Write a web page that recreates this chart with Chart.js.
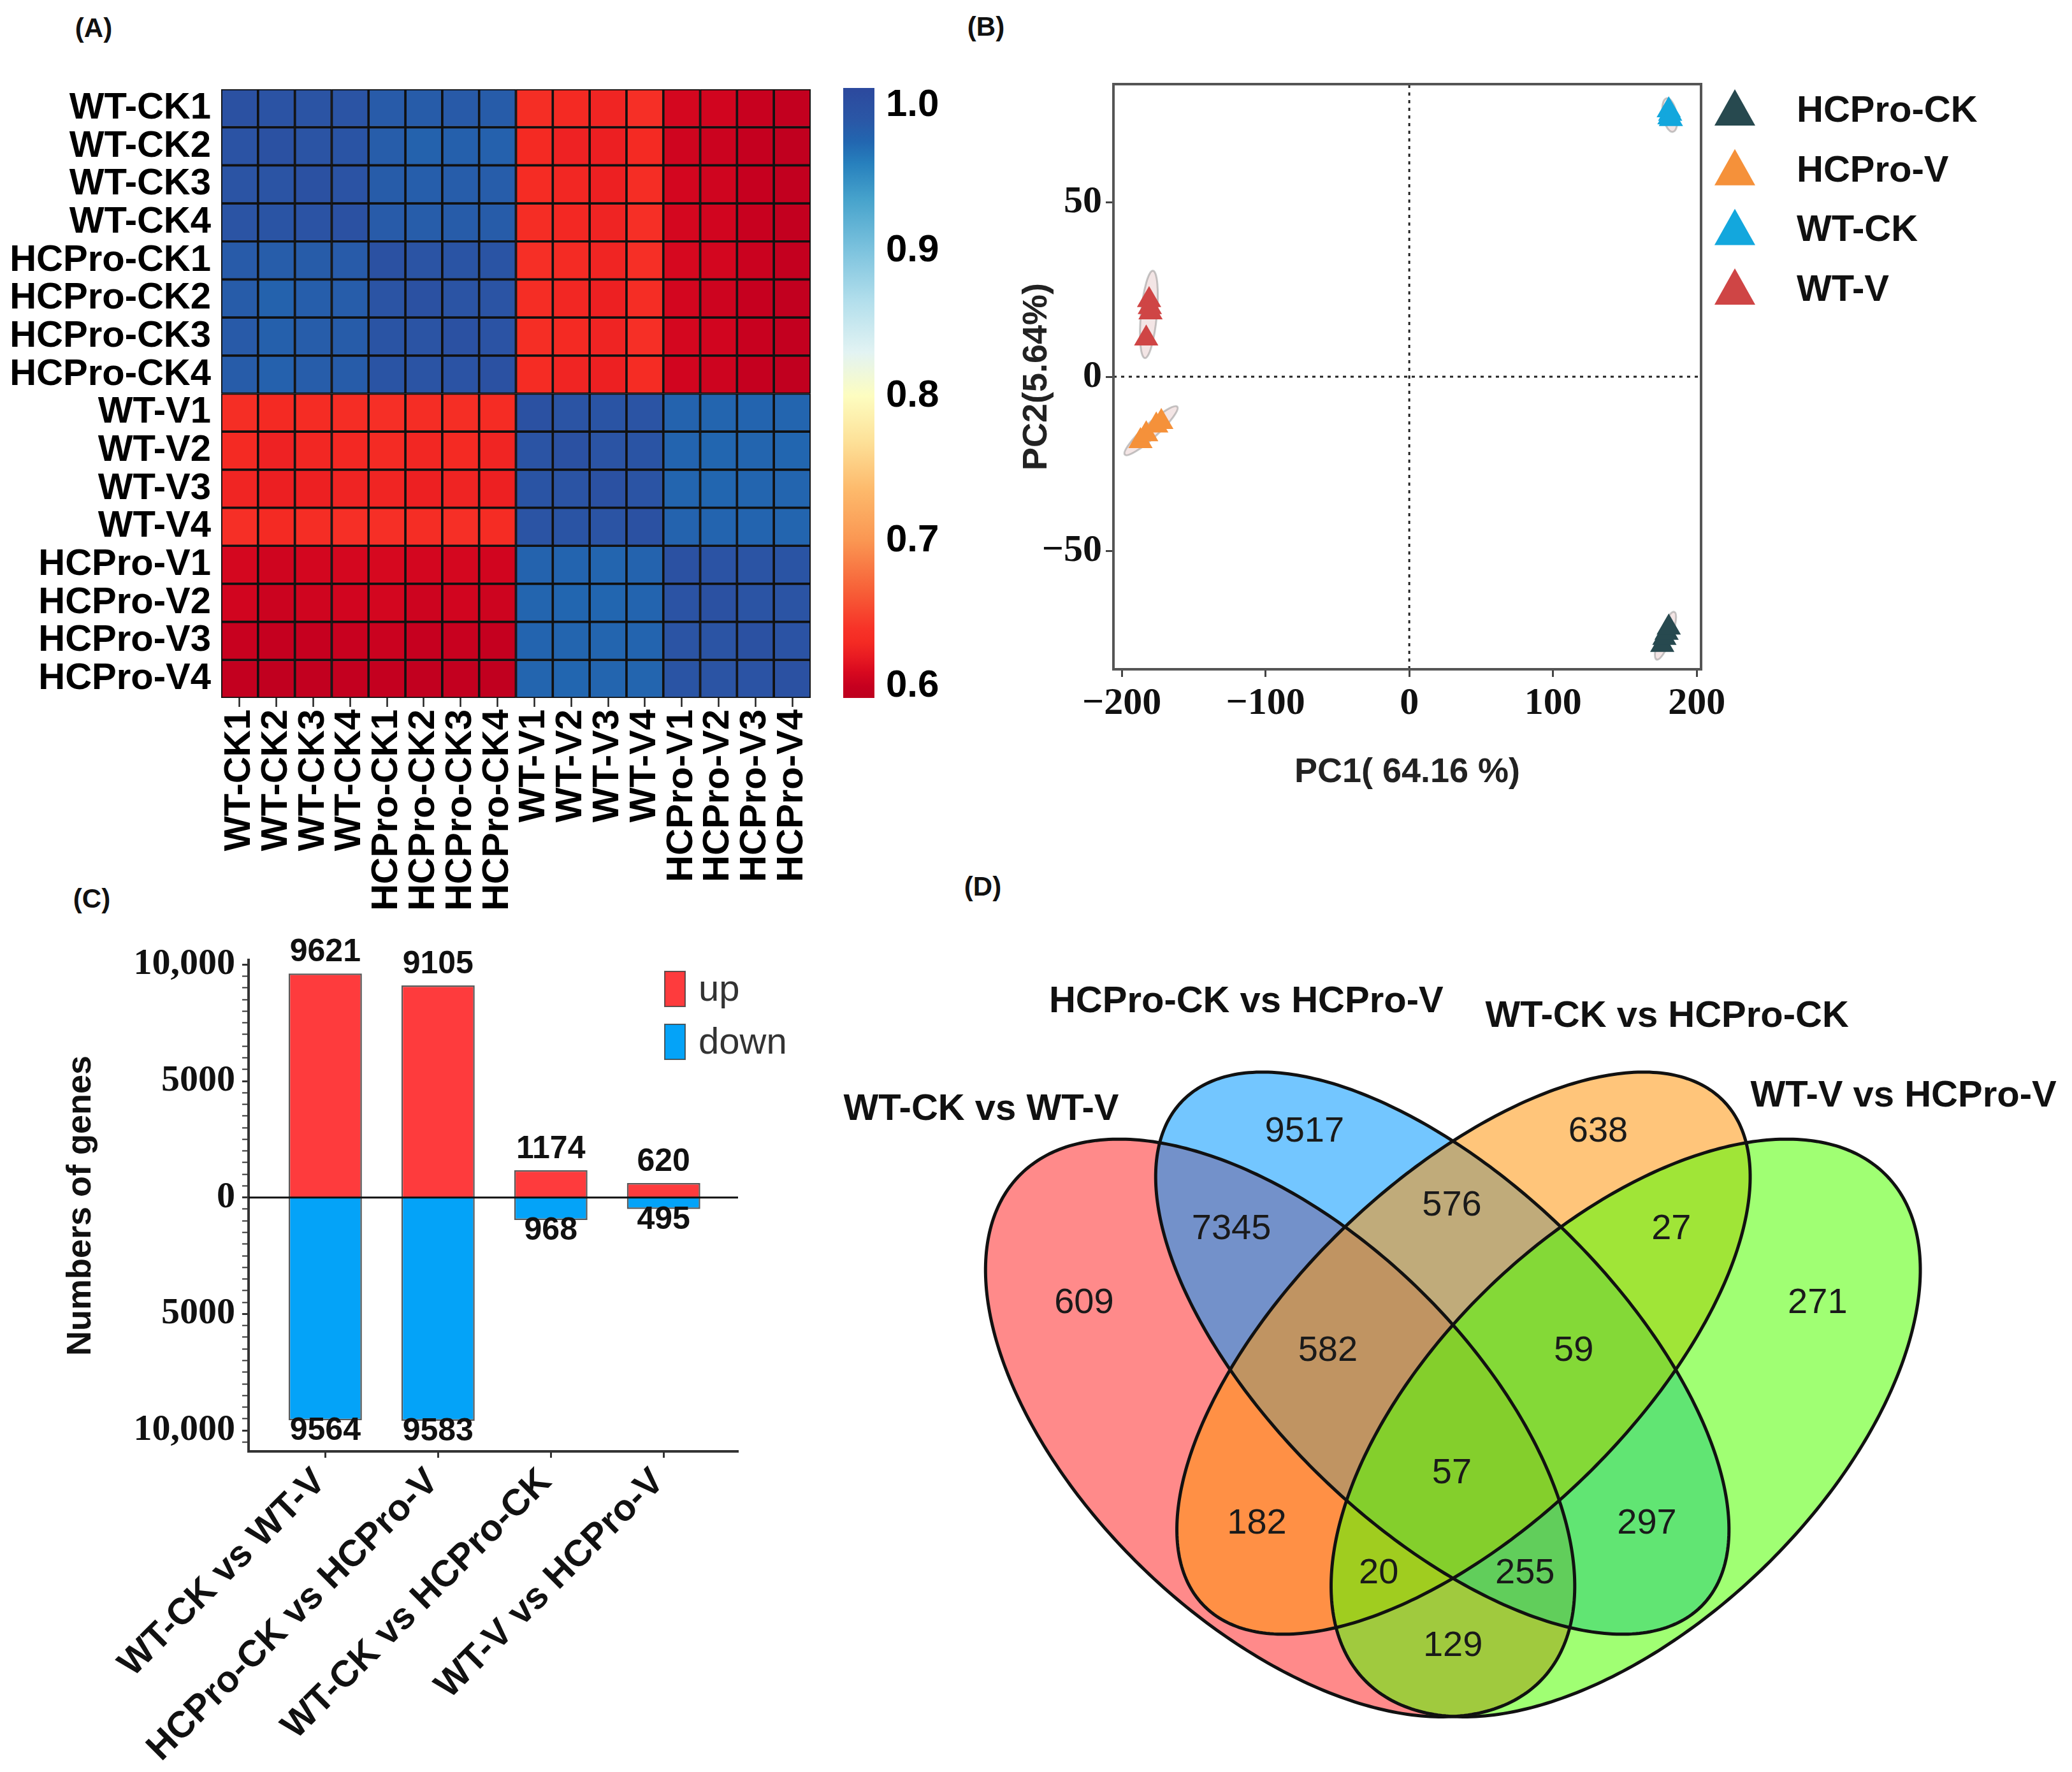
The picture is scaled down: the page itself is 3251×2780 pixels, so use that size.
<!DOCTYPE html>
<html><head><meta charset="utf-8">
<script src="https://cdn.jsdelivr.net/npm/chart.js@4.4.1/dist/chart.umd.min.js"></script>
<style>
html,body{margin:0;padding:0;background:#fff;}
body{width:3251px;height:2780px;position:relative;overflow:hidden;font-family:"Liberation Sans",Arial,sans-serif;}
.pl{position:absolute;font:bold 42px "Liberation Sans",Arial,sans-serif;color:#111;transform:translate(-50%,-50%);white-space:nowrap;}
canvas{position:absolute;}
</style></head><body>
<div class="pl" style="left:147px;top:44px">(A)</div>
<div class="pl" style="left:1547px;top:42px">(B)</div>
<div class="pl" style="left:144px;top:1410px">(C)</div>
<div class="pl" style="left:1542px;top:1391px">(D)</div>
<canvas id="cA" width="1300" height="1450" style="left:0;top:0;width:1300px;height:1450px"></canvas>
<canvas id="cCB" width="250" height="1200" style="left:1300px;top:0;width:250px;height:1200px"></canvas>
<canvas id="cB" width="1751" height="1300" style="left:1500px;top:0;width:1751px;height:1300px"></canvas>
<canvas id="cC" width="1300" height="1430" style="left:0;top:1350px;width:1300px;height:1430px"></canvas>
<canvas id="cD" width="1951" height="1430" style="left:1300px;top:1350px;width:1951px;height:1430px"></canvas>
<script>
// ---------------- DATA ----------------
// (A) sample correlation heatmap
const sampleLabels = ['WT-CK1','WT-CK2','WT-CK3','WT-CK4','HCPro-CK1','HCPro-CK2','HCPro-CK3','HCPro-CK4',
                      'WT-V1','WT-V2','WT-V3','WT-V4','HCPro-V1','HCPro-V2','HCPro-V3','HCPro-V4'];
const corrMatrix = [
 [1.000,0.996,0.995,0.995,0.986,0.985,0.987,0.985, 0.634,0.630,0.627,0.635, 0.608,0.606,0.601,0.597],
 [0.996,1.000,0.995,0.994,0.984,0.979,0.981,0.980, 0.630,0.625,0.623,0.630, 0.605,0.603,0.599,0.595],
 [0.995,0.995,1.000,0.996,0.985,0.983,0.984,0.984, 0.632,0.628,0.624,0.633, 0.607,0.605,0.600,0.596],
 [0.995,0.994,0.996,1.000,0.986,0.984,0.985,0.985, 0.633,0.629,0.626,0.635, 0.608,0.606,0.601,0.597],
 [0.986,0.984,0.985,0.986,1.000,0.995,0.994,0.994, 0.636,0.631,0.627,0.636, 0.609,0.607,0.602,0.598],
 [0.985,0.979,0.983,0.984,0.995,1.000,0.995,0.995, 0.633,0.628,0.624,0.633, 0.607,0.604,0.600,0.596],
 [0.987,0.981,0.984,0.985,0.994,0.995,1.000,0.996, 0.634,0.630,0.626,0.635, 0.608,0.606,0.601,0.597],
 [0.985,0.980,0.984,0.985,0.994,0.995,0.996,1.000, 0.632,0.627,0.624,0.632, 0.606,0.604,0.599,0.595],
 [0.634,0.630,0.632,0.633,0.636,0.633,0.634,0.632, 1.000,0.995,0.994,0.995, 0.978,0.976,0.977,0.976],
 [0.630,0.625,0.628,0.629,0.631,0.628,0.630,0.627, 0.995,1.000,0.995,0.994, 0.977,0.975,0.976,0.975],
 [0.627,0.623,0.624,0.626,0.627,0.624,0.626,0.624, 0.994,0.995,1.000,0.995, 0.976,0.975,0.976,0.976],
 [0.635,0.630,0.633,0.635,0.636,0.633,0.635,0.632, 0.995,0.994,0.995,1.000, 0.978,0.977,0.977,0.976],
 [0.608,0.605,0.607,0.608,0.609,0.607,0.608,0.606, 0.978,0.977,0.976,0.978, 1.000,0.996,0.995,0.994],
 [0.606,0.603,0.605,0.606,0.607,0.604,0.606,0.604, 0.976,0.975,0.975,0.977, 0.996,1.000,0.995,0.995],
 [0.601,0.599,0.600,0.601,0.602,0.600,0.601,0.599, 0.977,0.976,0.976,0.977, 0.995,0.995,1.000,0.996],
 [0.597,0.595,0.596,0.597,0.598,0.596,0.597,0.595, 0.976,0.975,0.976,0.976, 0.994,0.995,0.996,1.000]
];
const colorbarTicks = [0.6, 0.7, 0.8, 0.9, 1.0];
const colorbarRange = [0.592, 1.012];

// (B) PCA
const pcaGroups = ['HCPro-CK','HCPro-V','WT-CK','WT-V'];
const pc1HCProCK = [176.0, 177.5, 179.0, 180.5];
const pc2HCProCK = [-77.0, -75.0, -73.5, -72.0];
const pc1HCProV  = [-187.0, -183.0, -176.0, -172.5];
const pc2HCProV  = [-18.5, -16.5, -14.0, -13.0];
const pc1WTCK    = [180.5, 181.5, 181.0, 182.0];
const pc2WTCK    = [76.5, 75.5, 74.5, 74.0];
const pc1WTV     = [-181.0, -180.5, -180.0, -183.0];
const pc2WTV     = [22.0, 20.0, 18.5, 11.0];
const pcaXTicks = [-200, -100, 0, 100, 200];
const pcaYTicks = [-50, 0, 50];
const pcaXTitle = 'PC1( 64.16 %)';
const pcaYTitle = 'PC2(5.64%)';

// (C) DEG counts
const degComparisons = ['WT-CK vs WT-V','HCPro-CK vs HCPro-V','WT-CK vs HCPro-CK','WT-V vs HCPro-V'];
const degUp   = [9621, 9105, 1174, 620];
const degDown = [9564, 9583, 968, 495];
const degYMajorTicks = [-10000, -5000, 0, 5000, 10000];
const degYTitle = 'Numbers of genes';

// (D) Venn
const vennSets = ['WT-CK vs WT-V','HCPro-CK vs HCPro-V','WT-CK vs HCPro-CK','WT-V vs HCPro-V'];
const vennCounts = [609, 9517, 638, 271, 7345, 576, 27, 582, 59, 57, 182, 297, 20, 255, 129];

// ---------------- LAYOUT / STYLE ----------------
const SANS = '"Liberation Sans", Arial, sans-serif';
const SERIF = '"Liberation Serif", "Times New Roman", serif';
Chart.defaults.font.family = SANS;
Chart.defaults.color = '#111';
Chart.defaults.animation = false;

const colorStops = [
 [0.590,'#bb001e'],[0.600,'#c6001f'],[0.610,'#d8091f'],[0.620,'#e81a22'],[0.630,'#f42a23'],
 [0.640,'#f73328'],[0.665,'#f75e37'],[0.700,'#fa9652'],[0.735,'#fdb96b'],[0.770,'#fde29a'],
 [0.800,'#fdfdc0'],[0.830,'#e2f3f3'],[0.865,'#b3dfec'],[0.900,'#7dc3de'],[0.935,'#47a3cc'],
 [0.960,'#2780bd'],[0.975,'#2266b0'],[0.990,'#2a57a6'],[1.010,'#2c4a9e']
];
function hex2rgb(h){return [parseInt(h.substr(1,2),16),parseInt(h.substr(3,2),16),parseInt(h.substr(5,2),16)];}
function valueToColor(v){
  if (v <= colorStops[0][0]) return colorStops[0][1];
  for (let k=1;k<colorStops.length;k++){
    if (v <= colorStops[k][0]){
      const [v0,c0]=colorStops[k-1],[v1,c1]=colorStops[k];
      const t=(v-v0)/(v1-v0), a=hex2rgb(c0), b=hex2rgb(c1);
      return 'rgb('+a.map((x,i)=>Math.round(x+(b[i]-x)*t)).join(',')+')';
    }
  }
  return colorStops[colorStops.length-1][1];
}
const noSidePadding = s => { s.paddingLeft = 0; s.paddingRight = 0; };

// ---------------- (A) HEATMAP ----------------
const heatDatasets = sampleLabels.map((col, j) => ({
  label: col,
  data: sampleLabels.map(() => 1),
  backgroundColor: corrMatrix.map(row => valueToColor(row[j])),
  borderColor: '#111', borderWidth: 2.2, borderSkipped: false,
  barPercentage: 1, categoryPercentage: 1
}));
new Chart(document.getElementById('cA'), {
  type: 'bar',
  data: { labels: sampleLabels, datasets: heatDatasets },
  options: {
    indexAxis: 'y', responsive: false, devicePixelRatio: 1, animation: false,
    layout: { padding: { top: 140, right: 28, left: 0, bottom: 0 } },
    plugins: { legend: { display: false }, tooltip: { enabled: false } },
    scales: {
      x: { type: 'linear', stacked: true, min: 0, max: sampleLabels.length, position: 'bottom', offset: false,
        afterBuildTicks: s => { s.ticks = sampleLabels.map((_, j) => ({ value: j + 0.5 })); },
        afterFit: s => { s.height = 355; noSidePadding(s); },
        ticks: { autoSkip: false, minRotation: 90, maxRotation: 90, padding: 4, color: '#000',
                 font: { family: SANS, weight: 'bold', size: 58 }, callback: (v, i) => sampleLabels[i] },
        grid: { display: true, offset: false, drawOnChartArea: false, drawTicks: true, tickLength: 14, tickColor: '#222', tickWidth: 2.5 },
        border: { display: false } },
      y: { type: 'category', stacked: true,
        afterFit: s => { s.width = 347; },
        ticks: { autoSkip: false, padding: 8, color: '#000', font: { family: SANS, weight: 'bold', size: 58 } },
        grid: { display: false }, border: { display: false } }
    }
  }
});

// colour bar
new Chart(document.getElementById('cCB'), {
  type: 'bar',
  data: { labels: ['r'], datasets: [{
    data: [[colorbarRange[0], colorbarRange[1]]],
    backgroundColor: (c) => {
      const ch = c.chart; if (!ch.chartArea) return '#888';
      const ys = ch.scales.y;
      const g = ch.ctx.createLinearGradient(0, ys.getPixelForValue(colorbarRange[0]), 0, ys.getPixelForValue(colorbarRange[1]));
      g.addColorStop(0, valueToColor(colorbarRange[0]));
      colorStops.forEach(([v, col]) => {
        const t = (v - colorbarRange[0]) / (colorbarRange[1] - colorbarRange[0]);
        if (t > 0 && t < 1) g.addColorStop(t, col);
      });
      g.addColorStop(1, valueToColor(colorbarRange[1]));
      return g;
    },
    borderWidth: 0, barPercentage: 1, categoryPercentage: 1
  }]},
  options: {
    responsive: false, devicePixelRatio: 1, animation: false,
    layout: { padding: { top: 138, left: 23, bottom: 105, right: 0 } },
    plugins: { legend: { display: false }, tooltip: { enabled: false } },
    scales: {
      x: { display: false },
      y: { position: 'right', min: colorbarRange[0], max: colorbarRange[1],
        afterBuildTicks: s => { s.ticks = colorbarTicks.map(v => ({ value: v })); },
        afterFit: s => { s.width = 178; },
        ticks: { padding: 10, color: '#000', font: { family: SANS, weight: 'bold', size: 60 }, callback: v => v.toFixed(1) },
        grid: { display: false }, border: { display: false } }
    }
  }
});

// ---------------- (B) PCA ----------------
const pcaColors = ['#27494f', '#f5913a', '#13a7dd', '#cf4545'];
const pcaX = [pc1HCProCK, pc1HCProV, pc1WTCK, pc1WTV];
const pcaY = [pc2HCProCK, pc2HCProV, pc2WTCK, pc2WTV];
const pcaXRange = [-205.8, 203], pcaYRange = [-84, 84];
const pcaDatasets = pcaGroups.map((g, k) => ({
  type: 'scatter', label: g, order: 1,
  data: pcaX[k].map((x, i) => ({ x: x, y: pcaY[k][i] })),
  pointStyle: 'triangle', pointRadius: 22, pointHoverRadius: 22,
  backgroundColor: pcaColors[k], borderColor: pcaColors[k], borderWidth: 0
}));
pcaDatasets.push({ type: 'line', label: 'h0', order: 5, data: [{ x: pcaXRange[0], y: 0 }, { x: pcaXRange[1], y: 0 }],
  borderColor: '#222', borderWidth: 3, borderDash: [5, 7], pointRadius: 0 });
pcaDatasets.push({ type: 'line', label: 'v0', order: 5, data: [{ x: 0, y: pcaYRange[0] }, { x: 0, y: pcaYRange[1] }],
  borderColor: '#222', borderWidth: 3, borderDash: [5, 7], pointRadius: 0 });

const pcaPlugin = {
  id: 'pcaExtras',
  beforeDatasetsDraw(chart) {
    const { ctx, scales: { x, y } } = chart;
    ctx.save();
    pcaGroups.forEach((g, k) => {
      const pts = pcaX[k].map((v, i) => [x.getPixelForValue(v), y.getPixelForValue(pcaY[k][i])]);
      const n = pts.length;
      const mx = pts.reduce((s, p) => s + p[0], 0) / n, my = pts.reduce((s, p) => s + p[1], 0) / n;
      let sxx = 0, syy = 0, sxy = 0;
      pts.forEach(p => { sxx += (p[0]-mx)**2; syy += (p[1]-my)**2; sxy += (p[0]-mx)*(p[1]-my); });
      sxx /= n; syy /= n; sxy /= n;
      const tr = sxx + syy, det = sxx*syy - sxy*sxy;
      const d = Math.sqrt(Math.max(tr*tr/4 - det, 0));
      const l1 = tr/2 + d, l2 = tr/2 - d;
      const ang = Math.atan2(l1 - sxx, sxy || 1e-9);
      const ra = 2.4*Math.sqrt(l1) + 14, rb = 2.4*Math.sqrt(Math.max(l2,0)) + 9;
      ctx.beginPath();
      ctx.ellipse(mx, my, ra, rb, ang, 0, Math.PI*2);
      ctx.fillStyle = 'rgba(215,170,170,0.3)';
      ctx.strokeStyle = 'rgba(130,130,130,0.45)';
      ctx.lineWidth = 3;
      ctx.fill(); ctx.stroke();
    });
    ctx.restore();
  },
  afterDraw(chart) {
    const { ctx, chartArea: a } = chart;
    ctx.save();
    ctx.strokeStyle = '#555'; ctx.lineWidth = 4;
    ctx.strokeRect(a.left, a.top, a.right - a.left, a.bottom - a.top);
    ctx.font = 'bold 58px ' + SANS; ctx.textBaseline = 'middle'; ctx.textAlign = 'left';
    pcaGroups.forEach((g, k) => {
      const cx = a.right + 53, cy = a.top + 37 + k * 93.7;
      ctx.beginPath();
      ctx.moveTo(cx, cy - 29); ctx.lineTo(cx + 32, cy + 28); ctx.lineTo(cx - 32, cy + 28); ctx.closePath();
      ctx.fillStyle = pcaColors[k]; ctx.fill();
      ctx.fillStyle = '#111';
      ctx.fillText(g, a.right + 150, cy + 6);
    });
    ctx.restore();
  }
};
const minusFmt = v => (v < 0 ? '\u2212' + Math.abs(v) : String(v));
new Chart(document.getElementById('cB'), {
  type: 'scatter',
  data: { datasets: pcaDatasets },
  plugins: [pcaPlugin],
  options: {
    responsive: false, devicePixelRatio: 1, animation: false,
    layout: { padding: { top: 132, right: 582, left: 0, bottom: 0 } },
    plugins: { legend: { display: false }, tooltip: { enabled: false } },
    scales: {
      x: { type: 'linear', min: pcaXRange[0], max: pcaXRange[1],
        afterBuildTicks: s => { s.ticks = pcaXTicks.map(v => ({ value: v })); },
        afterFit: s => { s.height = 250; },
        ticks: { padding: 6, color: '#111', font: { family: SERIF, weight: 'bold', size: 60 }, callback: minusFmt },
        grid: { drawOnChartArea: false, tickLength: 12, tickColor: '#444', tickWidth: 3 },
        border: { display: false },
        title: { display: true, text: pcaXTitle, color: '#222', font: { family: SANS, weight: 'bold', size: 54 }, padding: { top: 0, bottom: 55 } } },
      y: { type: 'linear', min: pcaYRange[0], max: pcaYRange[1],
        afterBuildTicks: s => { s.ticks = pcaYTicks.map(v => ({ value: v })); },
        afterFit: s => { s.width = 247; },
        ticks: { padding: 6, color: '#111', font: { family: SERIF, weight: 'bold', size: 60 }, callback: minusFmt },
        grid: { drawOnChartArea: false, tickLength: 12, tickColor: '#444', tickWidth: 3 },
        border: { display: false },
        title: { display: true, text: pcaYTitle, color: '#222', font: { family: SANS, weight: 'bold', size: 54 }, padding: { top: 95, bottom: 0 } } }
    }
  }
});

// ---------------- (C) DEG BARS ----------------
const degColors = { up: '#fe3b3d', down: '#04a3f8' };
const degPlugin = {
  id: 'degExtras',
  afterDatasetsDraw(chart) {
    const { ctx, chartArea: a, scales: { y } } = chart;
    ctx.save();
    const y0 = y.getPixelForValue(0);
    ctx.strokeStyle = '#111'; ctx.lineWidth = 3;
    ctx.beginPath(); ctx.moveTo(a.left, y0); ctx.lineTo(a.right, y0); ctx.stroke();
    ctx.font = 'bold 50px ' + SANS; ctx.fillStyle = '#111'; ctx.textAlign = 'center'; ctx.textBaseline = 'middle';
    chart.data.datasets.forEach((ds, di) => {
      chart.getDatasetMeta(di).data.forEach((bar, i) => {
        const v = ds.data[i].y;
        ctx.fillText(String(Math.abs(v)), bar.x, v >= 0 ? bar.y - 33 : bar.y + 17);
      });
    });
    ctx.textAlign = 'left'; ctx.font = '58px ' + SANS;
    chart.data.datasets.forEach((ds, di) => {
      const bx = a.right - 115, by = a.top + 18 + di * 83;
      ctx.fillStyle = ds.backgroundColor; ctx.fillRect(bx, by, 32, 55);
      ctx.strokeStyle = 'rgba(60,60,60,0.8)'; ctx.lineWidth = 2; ctx.strokeRect(bx, by, 32, 55);
      ctx.fillStyle = '#333'; ctx.fillText(ds.label, bx + 53, by + 30);
    });
    ctx.restore();
  }
};
const fmtAbs = v => { const a = Math.abs(v); return a >= 10000 ? a.toLocaleString('en-US') : String(a); };
new Chart(document.getElementById('cC'), {
  type: 'bar',
  data: { datasets: [
    { label: 'up', data: degUp.map((v, i) => ({ x: i, y: v })), backgroundColor: degColors.up,
      borderColor: 'rgba(60,60,60,0.85)', borderWidth: 2.5, barPercentage: 0.65, categoryPercentage: 1 },
    { label: 'down', data: degDown.map((v, i) => ({ x: i, y: -v })), backgroundColor: degColors.down,
      borderColor: 'rgba(60,60,60,0.85)', borderWidth: 2.5, barPercentage: 0.65, categoryPercentage: 1 }
  ]},
  plugins: [degPlugin],
  options: {
    responsive: false, devicePixelRatio: 1, animation: false,
    layout: { padding: { top: 156, right: 142, left: 0, bottom: 0 } },
    plugins: { legend: { display: false }, tooltip: { enabled: false } },
    scales: {
      x: { type: 'linear', stacked: true, min: -0.68, max: 3.66, offset: false,
        afterBuildTicks: s => { s.ticks = degComparisons.map((_, i) => ({ value: i })); },
        afterFit: s => { s.height = 503; noSidePadding(s); },
        ticks: { autoSkip: false, minRotation: 45, maxRotation: 45, padding: 4, labelOffset: -8, color: '#111',
                 font: { family: SANS, weight: 'bold', size: 58 }, callback: (v, i) => degComparisons[i] },
        grid: { offset: false, drawOnChartArea: false, tickLength: 10, tickColor: '#333', tickWidth: 3 },
        border: { display: true, color: '#333', width: 4 } },
      y: { type: 'linear', stacked: true, min: -10900, max: 10200,
        afterBuildTicks: s => {
          const t = [];
          for (let v = -10500; v <= 10000; v += 500) t.push({ value: v });
          s.ticks = t;
        },
        ticks: { autoSkip: false, padding: 11, color: '#111',
                 font: { family: SERIF, weight: 'bold', size: 58 },
                 callback: v => (degYMajorTicks.includes(v) ? fmtAbs(v) : '') },
        afterFit: s => { s.width = 390; },
        grid: { drawOnChartArea: false, color: '#333', tickColor: '#333', tickLength: 10,
                tickWidth: c => (c.tick && degYMajorTicks.includes(c.tick.value) ? 3 : 2) },
        border: { display: true, color: '#333', width: 4 },
        title: { display: true, text: degYTitle, color: '#111', font: { family: SANS, weight: 'bold', size: 54 }, padding: { top: 95, bottom: 0 } } }
    }
  }
});

// ---------------- (D) VENN ----------------
const vennEllipses = [ // cx, cy, a, b, rotation(deg)
  [0.337, 0.463, 0.3457, 0.187, 135],
  [0.490, 0.535, 0.345, 0.165, 135],
  [0.510, 0.535, 0.345, 0.165, 45],
  [0.663, 0.463, 0.3457, 0.187, 45]
];
const vennFills = ['rgba(255,42,42,0.55)', 'rgba(0,151,255,0.55)', 'rgba(255,149,13,0.55)', 'rgba(82,255,0,0.55)'];
const vennLabelPos = [
  [0.152,0.583],[0.360,0.748],[0.637,0.748],[0.844,0.583],
  [0.291,0.654],[0.499,0.677],[0.706,0.654],
  [0.382,0.537],[0.614,0.537],[0.499,0.419],
  [0.315,0.371],[0.683,0.371],[0.430,0.323],[0.568,0.323],[0.500,0.253]
];
const vennTitlePos = [[0.055,0.769],[0.305,0.873],[0.702,0.859],[0.925,0.782]];
function ellipsePath(ctx, sx, sy, e) {
  const [cx, cy, a, b, rot] = e, th = rot * Math.PI / 180;
  ctx.beginPath();
  for (let k = 0; k <= 360; k++) {
    const t = k / 360 * 2 * Math.PI;
    const x = cx + a * Math.cos(t) * Math.cos(th) - b * Math.sin(t) * Math.sin(th);
    const y = cy + a * Math.cos(t) * Math.sin(th) + b * Math.sin(t) * Math.cos(th);
    const px = sx.getPixelForValue(x), py = sy.getPixelForValue(y);
    if (k === 0) ctx.moveTo(px, py); else ctx.lineTo(px, py);
  }
  ctx.closePath();
}
const vennPlugin = {
  id: 'venn',
  beforeDatasetsDraw(chart) {
    const { ctx, scales: { x, y } } = chart;
    ctx.save();
    vennEllipses.forEach((e, k) => { ellipsePath(ctx, x, y, e); ctx.fillStyle = vennFills[k]; ctx.fill(); });
    ctx.strokeStyle = '#111'; ctx.lineWidth = 5;
    vennEllipses.forEach(e => { ellipsePath(ctx, x, y, e); ctx.stroke(); });
    ctx.restore();
  },
  afterDatasetsDraw(chart) {
    const { ctx, scales: { x, y } } = chart;
    ctx.save();
    ctx.textAlign = 'center'; ctx.textBaseline = 'middle';
    ctx.font = '56px ' + SANS; ctx.fillStyle = '#1a1a1a';
    chart.getDatasetMeta(0).data.forEach((pt, i) => ctx.fillText(String(vennCounts[i]), pt.x, pt.y));
    ctx.font = 'bold 58px ' + SANS; ctx.fillStyle = '#111';
    vennSets.forEach((s, k) => ctx.fillText(s, x.getPixelForValue(vennTitlePos[k][0]), y.getPixelForValue(vennTitlePos[k][1])));
    ctx.restore();
  }
};
new Chart(document.getElementById('cD'), {
  type: 'scatter',
  data: { datasets: [{ label: 'regions', data: vennLabelPos.map(p => ({ x: p[0], y: p[1] })), pointRadius: 0, pointHoverRadius: 0 }] },
  plugins: [vennPlugin],
  options: {
    responsive: false, devicePixelRatio: 1, animation: false,
    layout: { padding: 0 },
    plugins: { legend: { display: false }, tooltip: { enabled: false } },
    scales: {
      x: { display: false, min: -0.089, max: 1.084 },
      y: { display: false, min: 0.132, max: 1.009 }
    }
  }
});
</script>
</body></html>
